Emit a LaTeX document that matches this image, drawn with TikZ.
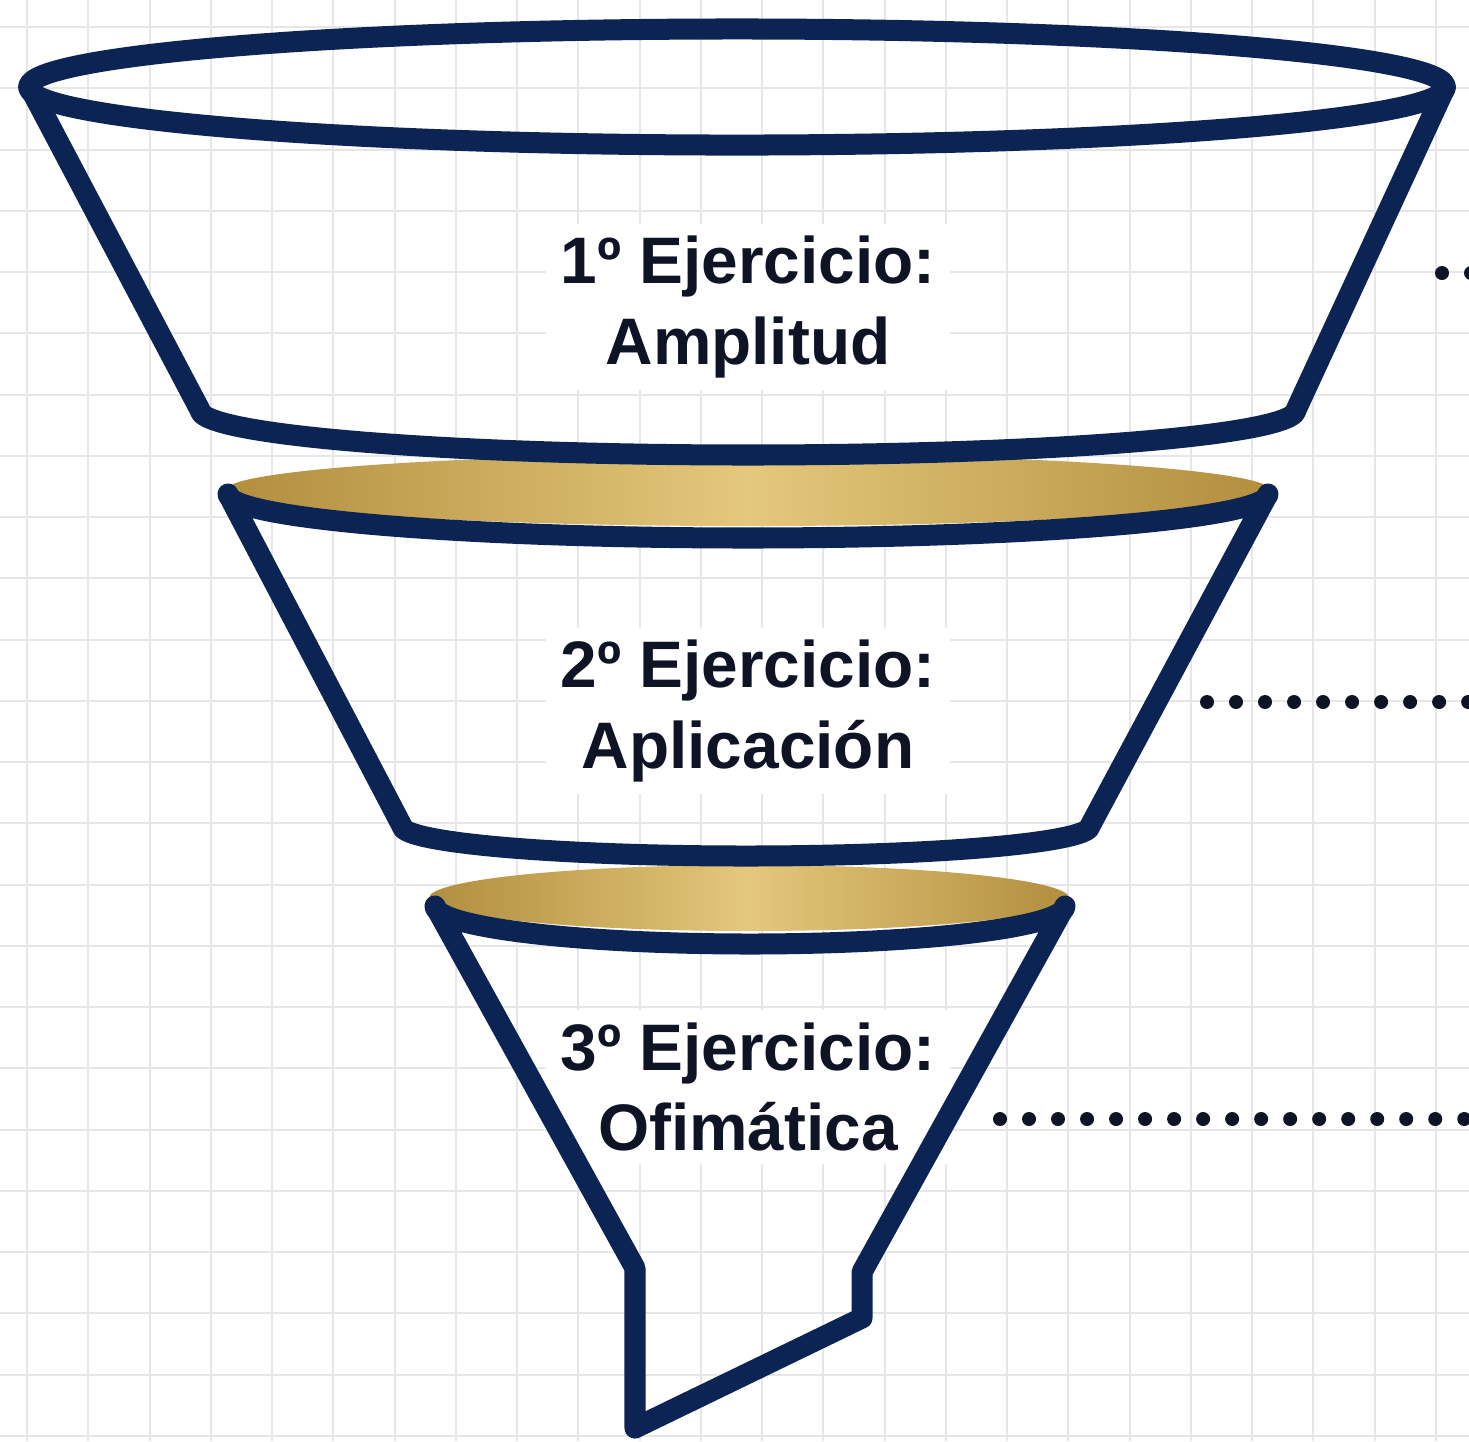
\documentclass[tikz,border=0pt]{standalone}
\usepackage{fontspec}
\setmainfont{Liberation Sans}
\definecolor{navy}{RGB}{12,36,84}
\definecolor{ink}{RGB}{14,20,38}
\definecolor{golddark}{RGB}{178,142,62}
\definecolor{goldlight}{RGB}{228,200,124}
\definecolor{gridgray}{RGB}{230,230,230}
\begin{document}
\begin{tikzpicture}[x=0.01cm, y=-0.01cm,
    funnel/.style={draw=navy, line width=0.21cm, line join=round, line cap=round},
    rim/.style={left color=golddark, right color=golddark, middle color=goldlight},
    tierlabel/.style={fill=white, text=ink, font=\fontsize{18.7}{23}\selectfont\bfseries,
        align=center, inner xsep=0.15cm, inner ysep=0.12cm},
    leader/.style={draw=ink, line width=0.14cm, line cap=round, dash pattern=on 0pt off 0.29cm}]
    \useasboundingbox (0,0) rectangle (1469,1441);
    \clip (0,0) rectangle (1469,1441);
    \fill[white] (0,0) rectangle (1469,1441);
    % grid paper
    \foreach \k in {0,...,23} {
        \draw[gridgray, line width=0.02cm] ({27+61.25*\k},0) -- ({27+61.25*\k},1441);
        \draw[gridgray, line width=0.02cm] (0,{27+61.25*\k}) -- (1469,{27+61.25*\k});
    }
    % labels
    \node[tierlabel] (ej1) at (748,307) {1º Ejercicio:\\Amplitud};
    \node[tierlabel] (ej2) at (748,711) {2º Ejercicio:\\Aplicación};
    \node[tierlabel] (ej3) at (748,1087) {3º Ejercicio:\\Ofimática};
    % gold rims
    \shade[rim] (748,490) ellipse [x radius=5.22cm, y radius=0.36cm];
    \shade[rim] (749,898) ellipse [x radius=3.2cm, y radius=0.33cm];
    % tier 1
    \draw[funnel] (737,87) ellipse [x radius=7.08cm, y radius=0.58cm];
    \draw[funnel] (30,88) coordinate (a1) -- (200,410) coordinate (b1)
        -- plot[domain=180:0, samples=60, variable=\t] ({748+548*cos(\t)},{410+45*sin(\t)})
        -- (1445,88) coordinate (c1);
    % tier 2
    \draw[funnel] (402,826) coordinate (b2) -- (228,494) coordinate (a2)
        -- plot[domain=180:0, samples=60, variable=\t] ({748+520*cos(\t)},{494+44*sin(\t)})
        -- (1090,826) coordinate (c2)
        -- plot[domain=0:180, samples=60, variable=\t] ({746+344*cos(\t)},{826+30*sin(\t)})
        -- cycle;
    % tier 3 and spout
    \draw[funnel] (435,906) coordinate (a3)
        -- plot[domain=180:0, samples=60, variable=\t] ({750+315*cos(\t)},{906+38*sin(\t)})
        -- (862,1272) -- (862,1318) -- (635,1428) -- (635,1268) -- cycle;
    % leaders
    \coordinate (d1) at (1442,273);
    \coordinate (e1) at (1520,273);
    \coordinate (d2) at (1207,702);
    \coordinate (e2) at (1520,702);
    \coordinate (d3) at (1000,1119);
    \coordinate (e3) at (1520,1119);
    \draw[leader] (d1) -- (e1);
    \draw[leader] (d2) -- (e2);
    \draw[leader] (d3) -- (e3);
\end{tikzpicture}
\end{document}
